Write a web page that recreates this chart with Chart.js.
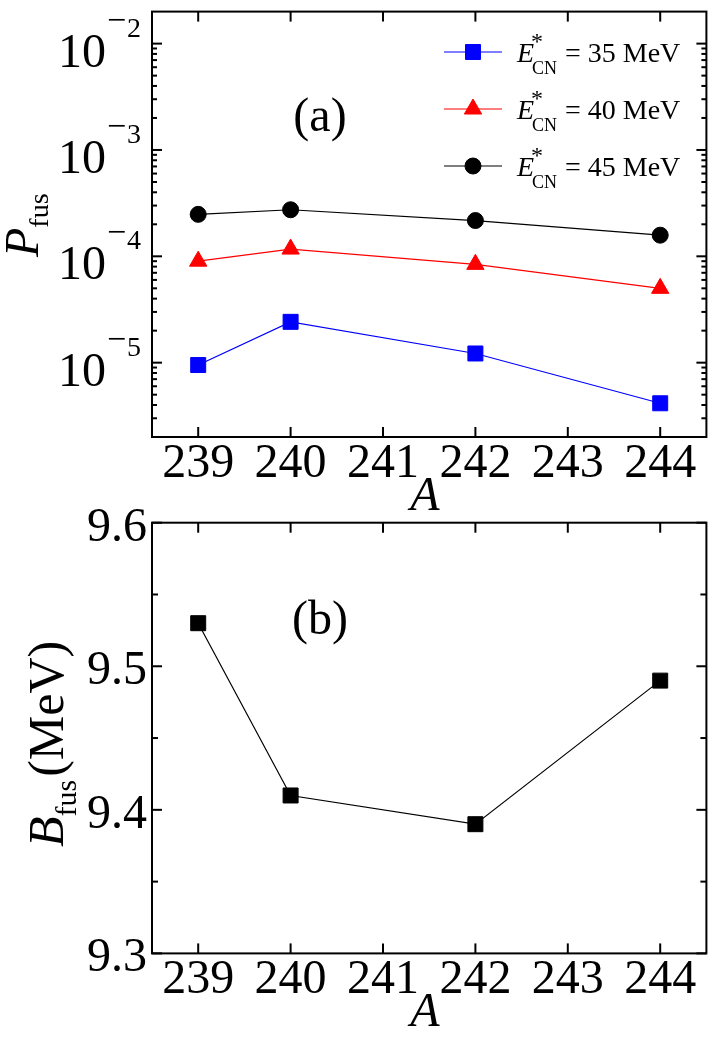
<!DOCTYPE html>
<html>
<head>
<meta charset="utf-8">
<script src="https://cdn.jsdelivr.net/npm/chart.js@4.4.1/dist/chart.umd.min.js"></script>
<style>
  html, body { margin: 0; padding: 0; background: #fff; }
  #wrap { position: relative; width: 718px; height: 1038px; }
  canvas { position: absolute; left: 0; }
  #pfusChart { top: 0; z-index: 2; }
  #bfusChart { top: 500px; z-index: 1; }
</style>
</head>
<body>
<div id="wrap">
  <canvas id="pfusChart" width="718" height="522"></canvas>
  <canvas id="bfusChart" width="718" height="538"></canvas>
</div>
<script>
// ===== data =====
const massA = [239, 240, 242, 244];
const pfus35 = [9.5e-6, 2.42e-5, 1.22e-5, 4.15e-6];
const pfus40 = [9.0e-5, 1.17e-4, 8.4e-5, 5.0e-5];
const pfus45 = [2.48e-4, 2.74e-4, 2.17e-4, 1.58e-4];
const bfus = [9.53, 9.41, 9.39, 9.49];

// ===== ticks =====
const xTicks = [239, 240, 241, 242, 243, 244];
const xTickLabels = ['239', '240', '241', '242', '243', '244'];
const pDecades = [1e-5, 1e-4, 1e-3, 1e-2];
const pExponents = ['5', '4', '3', '2'];
const pMinorMantissas = [2, 3, 4, 5, 6, 7, 8, 9];
const bTicks = [9.3, 9.4, 9.5, 9.6];
const bTickLabels = ['9.3', '9.4', '9.5', '9.6'];
const bMinor = [9.35, 9.45, 9.55];

const legendLabels = ['= 35 MeV', '= 40 MeV', '= 45 MeV'];

const SERIF = '"Liberation Serif", "Times New Roman", serif';

function seg(ctx, x1, y1, x2, y2) {
  ctx.beginPath(); ctx.moveTo(x1, y1); ctx.lineTo(x2, y2); ctx.stroke();
}

function series(vals, color, style, radius) {
  return {
    data: massA.map((a, i) => ({ x: a, y: vals[i] })),
    borderColor: color, backgroundColor: color, borderWidth: 1.2,
    pointStyle: style, pointRadius: radius, pointHoverRadius: radius,
    pointBorderWidth: 1, tension: 0
  };
}

// frame + inward ticks + x labels, shared by both panels
function drawFrameX(chart) {
  const { ctx, chartArea: a, scales: { x } } = chart;
  ctx.strokeStyle = '#000'; ctx.lineWidth = 2;
  ctx.strokeRect(a.left, a.top, a.right - a.left, a.bottom - a.top);
  xTicks.forEach(v => {
    const px = x.getPixelForValue(v);
    seg(ctx, px, a.bottom, px, a.bottom - 10);
    seg(ctx, px, a.top, px, a.top + 10);
  });
  ctx.fillStyle = '#000';
  ctx.font = '48px ' + SERIF; ctx.textAlign = 'center'; ctx.textBaseline = 'alphabetic';
  xTickLabels.forEach((t, i) => ctx.fillText(t, x.getPixelForValue(xTicks[i]), a.bottom + 40));
  ctx.font = 'italic 48px ' + SERIF;
  ctx.fillText('A', 425, a.bottom + 73);
}

const pfusAxes = {
  id: 'pfusAxes',
  afterDraw(chart) {
    const { ctx, chartArea: a, scales: { y } } = chart;
    ctx.save();
    drawFrameX(chart);
    // log ticks
    pDecades.forEach(v => {
      const py = y.getPixelForValue(v);
      seg(ctx, a.left, py, a.left + 10, py);
      seg(ctx, a.right, py, a.right - 10, py);
      pMinorMantissas.forEach(m => {
        const vm = v * m / 10;
        if (vm <= y.min) return;
        const pm = y.getPixelForValue(vm);
        seg(ctx, a.left, pm, a.left + 5, pm);
        seg(ctx, a.right, pm, a.right - 5, pm);
      });
    });
    // 10^-n labels
    pDecades.forEach((v, i) => {
      const py = y.getPixelForValue(v);
      ctx.textAlign = 'right'; ctx.font = '48px ' + SERIF;
      ctx.fillText('10', a.left - 46, py + 23);
      ctx.textAlign = 'left'; ctx.font = '34px ' + SERIF;
      ctx.fillText('\u2212', a.left - 45, py - 13);
      ctx.font = '28px ' + SERIF;
      ctx.fillText(pExponents[i], a.left - 25, py - 7);
    });
    // y title P_fus
    ctx.save();
    ctx.translate(38, 257); ctx.rotate(-Math.PI / 2);
    ctx.textAlign = 'left';
    ctx.font = 'italic 48px ' + SERIF; ctx.fillText('P', 0, 0);
    const wP = ctx.measureText('P').width;
    ctx.font = '28px ' + SERIF; ctx.fillText('fus', wP, 10);
    ctx.restore();
    // panel label
    ctx.textAlign = 'center'; ctx.font = '48px ' + SERIF;
    ctx.fillText('(a)', 320, 131);
    // legend
    chart.data.datasets.forEach((ds, i) => {
      const yy = 52 + i * 57;
      ctx.strokeStyle = ds.borderColor; ctx.fillStyle = ds.backgroundColor; ctx.lineWidth = 1.2;
      seg(ctx, 444, yy, 502, yy);
      ctx.lineWidth = 1;
      Chart.helpers.drawPoint(ctx, { pointStyle: ds.pointStyle, radius: ds.pointRadius, rotation: 0, borderWidth: 1 }, 473, yy);
      ctx.fillStyle = '#000'; ctx.textAlign = 'left';
      ctx.font = 'italic 28px ' + SERIF; ctx.fillText('E', 517, yy + 10);
      ctx.font = '24px ' + SERIF; ctx.fillText('*', 531, yy - 3);
      ctx.font = '18px ' + SERIF; ctx.fillText('CN', 532, yy + 22);
      ctx.font = '28px ' + SERIF; ctx.fillText(legendLabels[i], 565, yy + 10);
    });
    ctx.restore();
  }
};

const bfusAxes = {
  id: 'bfusAxes',
  afterDraw(chart) {
    const { ctx, chartArea: a, scales: { y } } = chart;
    ctx.save();
    drawFrameX(chart);
    bTicks.forEach((v, i) => {
      const py = y.getPixelForValue(v);
      seg(ctx, a.left, py, a.left + 10, py);
      seg(ctx, a.right, py, a.right - 10, py);
      ctx.textAlign = 'right'; ctx.font = '48px ' + SERIF;
      ctx.fillText(bTickLabels[i], a.left - 5, py + 18);
    });
    bMinor.forEach(v => {
      const py = y.getPixelForValue(v);
      seg(ctx, a.left, py, a.left + 6, py);
      seg(ctx, a.right, py, a.right - 6, py);
    });
    // y title B_fus(MeV)
    ctx.save();
    ctx.translate(63, 347); ctx.rotate(-Math.PI / 2);
    ctx.textAlign = 'left';
    ctx.font = 'italic 50px ' + SERIF; ctx.fillText('B', 0, 0);
    let w = ctx.measureText('B').width;
    ctx.font = '30px ' + SERIF; ctx.fillText('fus', w, 13);
    w += ctx.measureText('fus').width + 3;
    ctx.font = '50px ' + SERIF; ctx.fillText('(MeV)', w, 0);
    ctx.restore();
    ctx.textAlign = 'center'; ctx.font = '48px ' + SERIF;
    ctx.fillText('(b)', 320, 134);
    ctx.restore();
  }
};

const baseOpts = (pad, yScale) => ({
  responsive: false, animation: false, events: [],
  layout: { padding: pad },
  plugins: { legend: { display: false }, tooltip: { enabled: false } },
  scales: {
    x: { type: 'linear', min: 238.5, max: 244.5, display: false },
    y: yScale
  }
});

new Chart(document.getElementById('pfusChart'), {
  type: 'line',
  data: {
    datasets: [
      series(pfus35, '#0000ff', 'rect', 10.6),
      series(pfus40, '#ff0000', 'triangle', 10),
      series(pfus45, '#000000', 'circle', 8)
    ]
  },
  options: baseOpts({ left: 152, right: 11, top: 7, bottom: 85 },
    { type: 'logarithmic', min: 2e-6, max: 2e-2, display: false }),
  plugins: [pfusAxes]
});

new Chart(document.getElementById('bfusChart'), {
  type: 'line',
  data: { datasets: [series(bfus, '#000000', 'rect', 10.6)] },
  options: baseOpts({ left: 152, right: 11, top: 22.7, bottom: 84.6 },
    { type: 'linear', min: 9.3, max: 9.6, display: false }),
  plugins: [bfusAxes]
});
</script>
</body>
</html>
